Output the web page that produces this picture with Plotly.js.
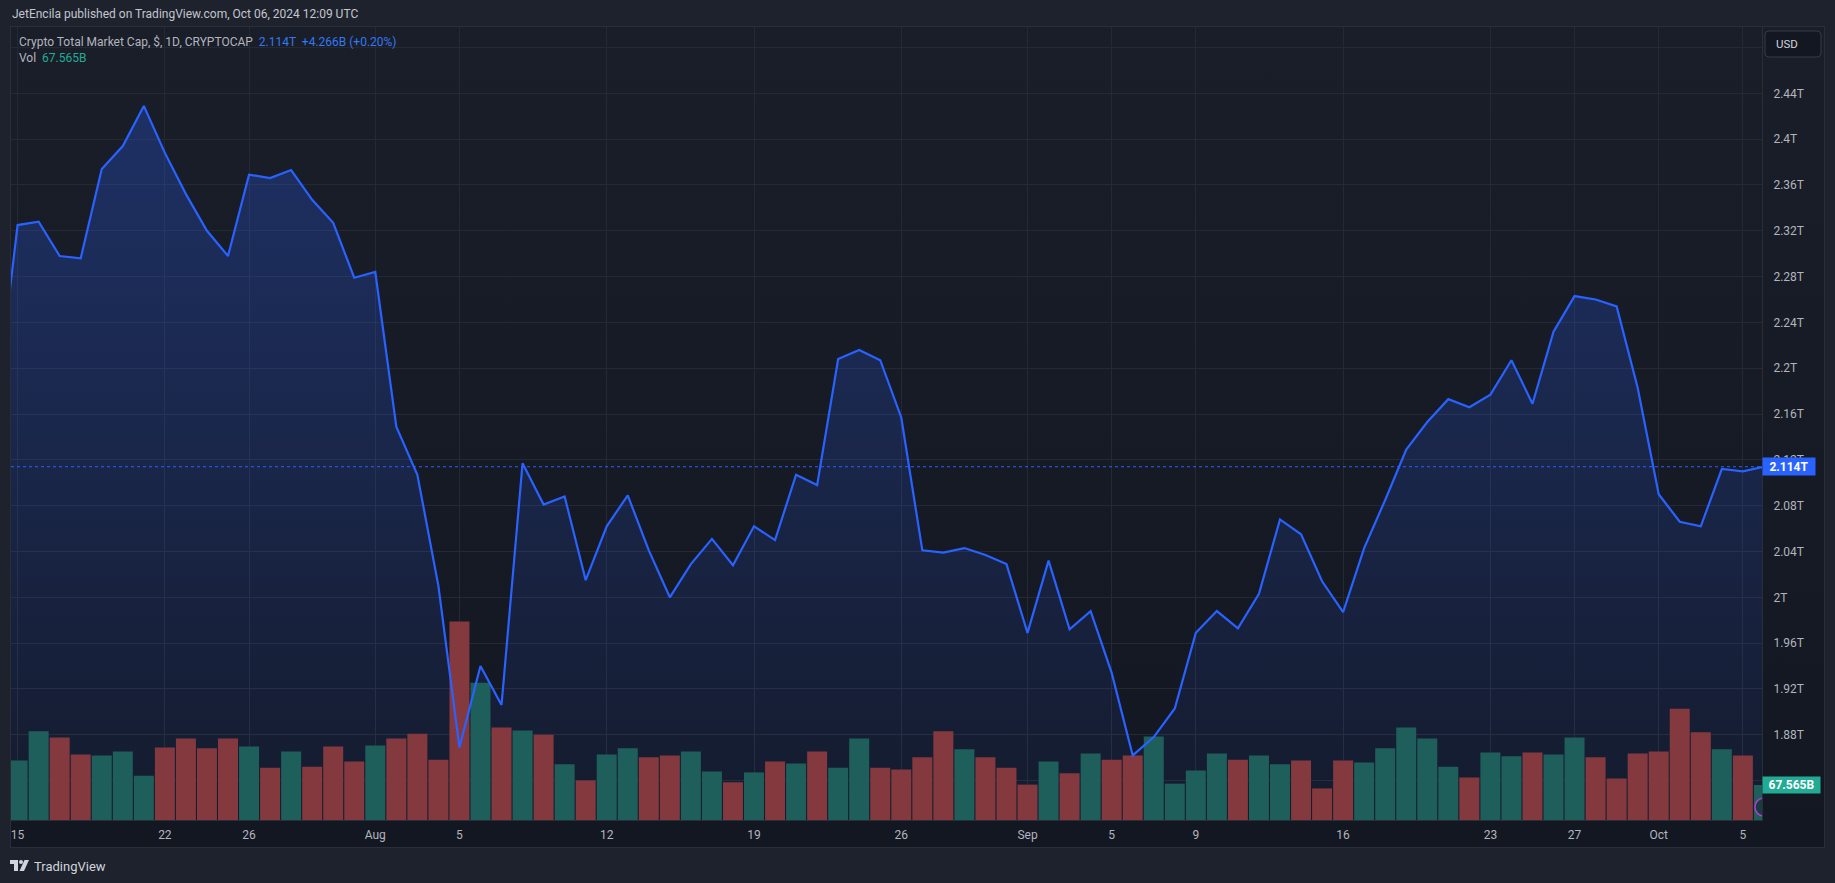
<!DOCTYPE html>
<html><head><meta charset="utf-8">
<script src="https://cdn.plot.ly/plotly-3.0.1.min.js"></script>
<style>
html,body{margin:0;padding:0;background:#1e222d;width:1835px;height:883px;overflow:hidden;}
#panel{position:absolute;left:10px;top:26px;width:1815px;height:822px;border:1px solid #2a2e39;box-sizing:border-box;background:linear-gradient(#1a1e29,#131722);}
#timestrip{position:absolute;left:11px;top:820px;width:1813px;height:27px;background:#131722;}
#chart{position:absolute;left:0;top:0;width:1835px;height:883px;}
#logo{position:absolute;left:10px;top:860px;}
</style></head>
<body>
<div id="panel"></div><div id="timestrip"></div>
<svg id="logo" width="20" height="12" viewBox="0 0 20 12">
  <path d="M0 0 H8 V11 H4 V4 H0 Z" fill="#d1d4dc"/>
  <circle cx="11" cy="2" r="2" fill="#d1d4dc"/>
  <path d="M14.5 0 H19 L14 11 H9.5 Z" fill="#d1d4dc"/>
</svg>
<div id="chart"></div>
<script>
const dates = [
'2024-07-14','2024-07-15','2024-07-16','2024-07-17','2024-07-18','2024-07-19','2024-07-20','2024-07-21',
'2024-07-22','2024-07-23','2024-07-24','2024-07-25','2024-07-26','2024-07-27','2024-07-28',
'2024-07-29','2024-07-30','2024-07-31',
'2024-08-01','2024-08-02','2024-08-03','2024-08-04',
'2024-08-05','2024-08-06','2024-08-07','2024-08-08','2024-08-09','2024-08-10','2024-08-11',
'2024-08-12','2024-08-13','2024-08-14','2024-08-15','2024-08-16','2024-08-17','2024-08-18',
'2024-08-19','2024-08-20','2024-08-21','2024-08-22','2024-08-23','2024-08-24','2024-08-25',
'2024-08-26','2024-08-27','2024-08-28','2024-08-29','2024-08-30','2024-08-31',
'2024-09-01','2024-09-02','2024-09-03','2024-09-04',
'2024-09-05','2024-09-06','2024-09-07','2024-09-08',
'2024-09-09','2024-09-10','2024-09-11','2024-09-12','2024-09-13','2024-09-14','2024-09-15',
'2024-09-16','2024-09-17','2024-09-18','2024-09-19','2024-09-20','2024-09-21','2024-09-22',
'2024-09-23','2024-09-24','2024-09-25','2024-09-26','2024-09-27','2024-09-28','2024-09-29',
'2024-09-30',
'2024-10-01','2024-10-02','2024-10-03','2024-10-04','2024-10-05','2024-10-06'
];
// total market cap, trillions USD (daily close)
const marketCapT = [
2.170,
2.325,2.328,2.298,2.296,2.374,2.394,2.429,
2.388,2.352,2.320,2.298,2.369,2.366,2.373,
2.347,2.327,2.279,
2.284,2.149,2.107,2.010,
1.869,1.940,1.906,2.117,2.081,2.088,2.015,
2.062,2.089,2.041,2.000,2.029,2.051,2.028,
2.062,2.050,2.107,2.098,2.208,2.216,2.207,
2.157,2.041,2.039,2.043,2.037,2.029,
1.969,2.032,1.972,1.988,
1.934,1.862,1.878,1.903,
1.969,1.988,1.973,2.003,2.068,2.055,2.014,
1.987,2.043,2.085,2.129,2.153,2.173,2.166,
2.177,2.207,2.169,2.232,2.263,2.260,2.254,
2.183,
2.090,2.066,2.062,2.112,2.110,2.114
];
// volume, billions USD
const volumeB = [
null,
114.7,171.1,159.3,126.5,124.7,132.0,85.5,
140.1,157.4,138.3,157.4,142.0,101.0,132.0,
102.8,142.0,112.8,
143.8,157.4,166.5,116.5,
383.1,264.8,178.4,172.9,164.7,107.4,76.4,
126.5,138.3,121.0,124.7,132.0,93.7,72.8,
91.9,112.8,109.2,132.0,101.0,157.4,101.0,
97.4,121.0,171.1,136.5,121.0,101.0,
68.3,112.8,90.1,128.3,
116.5,124.7,161.1,70.1,
95.6,128.3,116.5,124.7,107.4,114.7,61.0,
114.7,111.0,138.3,178.4,157.4,102.8,81.9,
130.1,122.9,130.1,126.5,159.3,121.0,80.1,
128.3,
132.0,214.8,169.3,136.5,124.7,67.565
];
// candle direction for each day's volume bar: u = up, d = down
const volumeDir = [
null,
'u','u','d','d','u','u','u',
'd','d','d','d','u','d','u',
'd','d','d',
'u','d','d','d',
'd','u','d','u','d','u','d',
'u','u','d','d','u','u','d',
'u','d','u','d','u','u','d',
'd','d','d','u','d','d',
'd','u','d','u',
'd','d','u','u',
'u','u','d','u','u','d','d',
'd','u','u','u','u','u','d',
'u','u','d','u','u','d','d',
'd',
'd','d','d','u','d','u'
];
const xTickDates = ['2024-07-15','2024-07-22','2024-07-26','2024-08-01','2024-08-05','2024-08-12','2024-08-19','2024-08-26','2024-09-01','2024-09-05','2024-09-09','2024-09-16','2024-09-23','2024-09-27','2024-10-01','2024-10-05'];
const xTickLabels = ['15','22','26','Aug','5','12','19','26','Sep','5','9','16','23','27','Oct','5'];
const yTickVals = [1.84,1.88,1.92,1.96,2.00,2.04,2.08,2.12,2.16,2.20,2.24,2.28,2.32,2.36,2.40,2.44,2.48];
const yTickLabels = ['','1.88T','1.92T','1.96T','2T','2.04T','2.08T','2.12T','2.16T','2.2T','2.24T','2.28T','2.32T','2.36T','2.4T','2.44T',''];
const lastPriceText = '2.114T';
const lastVolText = '67.565B';
const changeText = '+4.266B (+0.20%)';

const UP = '#1e5f5c', DOWN = '#84393e';
const BLUE = '#2962ff';
const FONT = 'Roboto, "Noto Sans", sans-serif';

// plot area geometry (px)
const L = 11, R = 1762, T = 27, B = 820, W = R - L, H = B - T;
const px = x => (x - L) / W;
const py = y => (B - y) / H;
const yRange = [1.8056, 2.4979];
const vRange = [0, 1530.5];

const lastIdx = marketCapT.length - 1;

const traces = [
  { // area fill
    x: dates, y: marketCapT, type: 'scatter', mode: 'lines',
    line: {width: 0, color: 'rgba(0,0,0,0)'},
    fill: 'tozeroy',
    fillcolor: 'rgba(41,98,255,0.15)',
    fillgradient: {type: 'vertical', start: yRange[0], stop: 2.43,
      colorscale: [[0, 'rgba(41,98,255,0.05)'], [1, 'rgba(41,98,255,0.28)']]},
    hoverinfo: 'skip', showlegend: false, xaxis: 'x', yaxis: 'y'
  },
  { // volume
    x: dates, y: volumeB, type: 'bar',
    marker: {color: volumeDir.map(d => d === 'u' ? UP : DOWN), line: {width: 0}},
    hoverinfo: 'skip', showlegend: false, xaxis: 'x', yaxis: 'y2'
  },
  { // price line
    x: dates, y: marketCapT, type: 'scatter', mode: 'lines',
    line: {width: 2.2, color: BLUE},
    hoverinfo: 'skip', showlegend: false, xaxis: 'x', yaxis: 'y3'
  }
];

function roundRect(x0, y0, x1, y1, r) {
  const P = (x, y) => px(x) + ',' + py(y);
  return 'M' + P(x0 + r, y0) + ' L' + P(x1 - r, y0) + ' Q' + P(x1, y0) + ' ' + P(x1, y0 + r) +
    ' L' + P(x1, y1 - r) + ' Q' + P(x1, y1) + ' ' + P(x1 - r, y1) +
    ' L' + P(x0 + r, y1) + ' Q' + P(x0, y1) + ' ' + P(x0, y1 - r) +
    ' L' + P(x0, y0 + r) + ' Q' + P(x0, y0) + ' ' + P(x0 + r, y0) + ' Z';
}

const layout = {
  width: 1835, height: 883,
  margin: {l: L, r: 1835 - R, t: T, b: 883 - B, pad: 0},
  paper_bgcolor: 'rgba(0,0,0,0)', plot_bgcolor: 'rgba(0,0,0,0)',
  font: {family: FONT, color: '#b2b5be', size: 12},
  bargap: 0.05,
  showlegend: false,
  xaxis: {
    type: 'date', range: ['2024-07-14 16:28', '2024-10-05 21:49'],
    tickmode: 'array', tickvals: xTickDates, ticktext: xTickLabels,
    showgrid: true, gridcolor: '#252933', gridwidth: 1,
    zeroline: false, showline: true, linecolor: '#2a2e39', linewidth: 1,
    ticks: '', ticklabelstandoff: 4,
    tickfont: {family: FONT, size: 12, color: '#b2b5be'}, fixedrange: true
  },
  yaxis: {
    range: yRange, side: 'right', tickmode: 'array', tickvals: yTickVals, ticktext: yTickLabels,
    showgrid: true, gridcolor: '#252933', gridwidth: 1,
    zeroline: false, showline: true, linecolor: '#2a2e39', linewidth: 1,
    ticks: '', ticklabelstandoff: 8,
    tickfont: {family: FONT, size: 12, color: '#b2b5be'}, fixedrange: true
  },
  yaxis2: {range: vRange, overlaying: 'y', side: 'right', visible: false, fixedrange: true},
  yaxis3: {range: yRange, overlaying: 'y', side: 'right', visible: false, fixedrange: true},
  shapes: [
    {type: 'line', xref: 'paper', x0: 0, x1: 1, yref: 'y', y0: marketCapT[lastIdx], y1: marketCapT[lastIdx],
     line: {color: BLUE, width: 1, dash: 'dot'}},
    {type: 'path', xref: 'paper', yref: 'paper', path: roundRect(1765, 31, 1821, 57, 4),
     fillcolor: '#131722', line: {color: '#363a45', width: 1}},
    {type: 'circle', xref: 'x', yref: 'y', x0: '2024-10-05 13:44', x1: '2024-10-06 10:16', y0: 1.8091, y1: 1.8248,
     fillcolor: 'rgba(19,23,34,0.5)', line: {color: '#b03fcf', width: 1.5}}
  ],
  annotations: [
    {xref: 'paper', yref: 'paper', x: px(10), y: py(14), xanchor: 'left', yanchor: 'middle', showarrow: false,
     text: 'JetEncila published on TradingView.com, Oct 06, 2024 12:09 UTC',
     font: {family: FONT, size: 12, color: '#c3c6ce'}},
    {xref: 'paper', yref: 'paper', x: px(17), y: py(42), xanchor: 'left', yanchor: 'middle', showarrow: false,
     text: 'Crypto Total Market Cap, $, 1D, CRYPTOCAP  <span style="color:#3179f5">' + lastPriceText + '  ' + changeText + '</span>',
     font: {family: FONT, size: 12, color: '#b2b5be'}},
    {xref: 'paper', yref: 'paper', x: px(17), y: py(58), xanchor: 'left', yanchor: 'middle', showarrow: false,
     text: 'Vol  <span style="color:#22ab94">' + lastVolText + '</span>',
     font: {family: FONT, size: 12, color: '#b2b5be'}},
    {xref: 'paper', yref: 'paper', x: px(1774), y: py(44), xanchor: 'left', yanchor: 'middle', showarrow: false,
     text: 'USD', font: {family: FONT, size: 11.5, color: '#d1d4dc'}},
    {xref: 'paper', yref: 'y', x: px(1762), y: marketCapT[lastIdx], xanchor: 'left', yanchor: 'middle', showarrow: false,
     text: '<b>' + lastPriceText + '</b>', bgcolor: BLUE, width: 50, height: 15, borderpad: 1, align: 'center',
     font: {family: FONT, size: 12, color: '#ffffff'}},
    {xref: 'paper', yref: 'y2', x: px(1762), y: volumeB[lastIdx], xanchor: 'left', yanchor: 'middle', showarrow: false,
     text: '<b>' + lastVolText + '</b>', bgcolor: '#22ab94', width: 55, height: 14, borderpad: 1, align: 'center',
     font: {family: FONT, size: 12, color: '#ffffff'}},
    {xref: 'paper', yref: 'paper', x: px(32), y: py(866), xanchor: 'left', yanchor: 'middle', showarrow: false,
     text: 'TradingView', font: {family: FONT, size: 13, color: '#d1d4dc'}}
  ]
};

Plotly.newPlot('chart', traces, layout, {displayModeBar: false, staticPlot: true});
</script>
</body></html>
